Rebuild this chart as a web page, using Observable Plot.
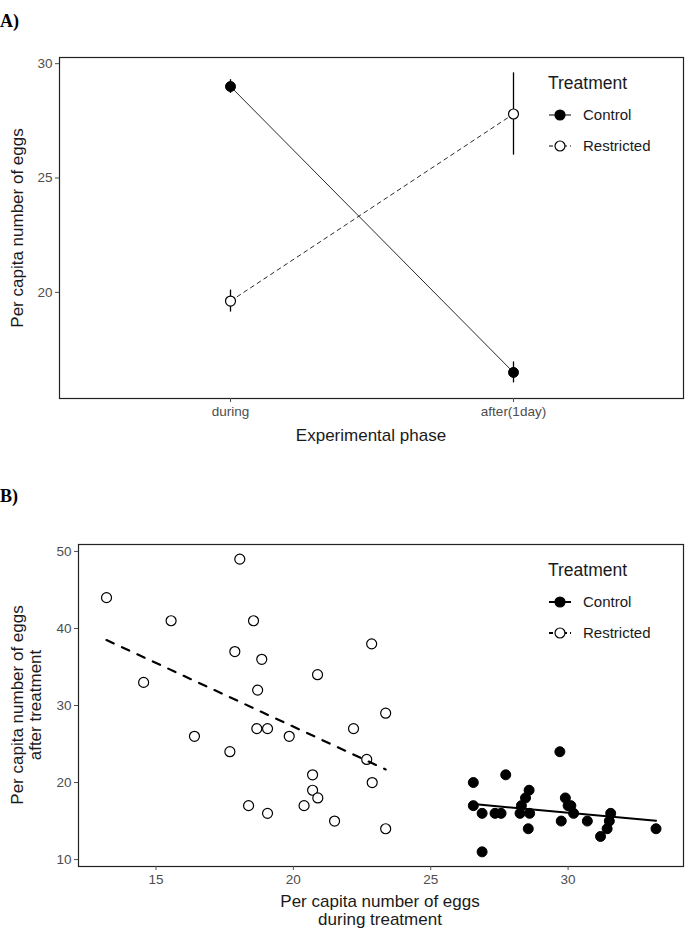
<!DOCTYPE html>
<html><head><meta charset="utf-8">
<script src="https://cdn.jsdelivr.net/npm/d3@7"></script>
<script src="https://cdn.jsdelivr.net/npm/@observablehq/plot@0.6"></script>
<style>
body{margin:0;background:#fff;}
#page{position:relative;width:685px;height:934px;font-family:"Liberation Sans",Arial,sans-serif;overflow:hidden;}
.abs{position:absolute;}
.panel{position:absolute;font-family:"Liberation Serif","Times New Roman",serif;font-weight:bold;font-size:18px;line-height:18px;}
.title{position:absolute;font-size:17px;line-height:18px;color:#1a1a1a;white-space:nowrap;}
.rot{transform-origin:center center;transform:translate(-50%,-50%) rotate(-90deg);text-align:center;}
.hcenter{transform:translate(-50%,-50%);text-align:center;}
</style></head><body><div id="page"></div>
<script>
// ---------- Panel A data ----------
const phases = ["during", "after(1day)"];
const treatments = ["Control", "Restricted"];
const controlMean = [29.0, 16.5];
const controlSE = [0.3, 0.46];
const restrictedMean = [19.62, 27.8];
const restrictedSE = [0.48, 1.8];
const yTicksA = [20, 25, 30];

// ---------- Panel B data ----------
const controlDuring = [26.55, 27.73, 29.7, 26.55, 26.87, 27.34, 27.56, 26.87, 28.58, 28.45, 28.3, 28.25, 28.6, 28.55, 29.75, 29.9, 30.0, 30.2, 30.7, 31.55, 31.5, 31.42, 31.18, 33.2, 30.1];
const controlAfter  = [20, 21, 24, 17, 16, 16, 16, 11, 19, 18, 17, 16, 16, 14, 15, 18, 17, 16, 15, 16, 15, 14, 13, 14, 17];
const restrictedDuring = [13.2, 18.05, 15.55, 18.55, 22.85, 17.87, 18.85, 14.55, 20.88, 18.7, 23.36, 16.4, 18.67, 19.06, 19.85, 22.19, 17.69, 22.67, 20.7, 22.87, 20.7, 20.89, 18.37, 20.39, 19.06, 21.5, 23.36];
const restrictedAfter  = [44, 49, 41, 41, 38, 37, 36, 33, 34, 32, 29, 26, 27, 27, 26, 27, 24, 23, 21, 20, 19, 18, 17, 17, 16, 15, 14];
// fitted linear trend lines (ends of each line)
const controlFitDuring = [26.55, 33.2];
const controlFitAfter  = [17.2, 15.05];
const restrictedFitDuring = [13.2, 23.36];
const restrictedFitAfter  = [38.5, 21.7];
const xTicksB = [15, 20, 25, 30];
const yTicksB = [10, 20, 30, 40, 50];

const page = document.getElementById("page");
const FONT = "Liberation Sans, Arial, sans-serif";

// table for A
const tableA = [];
phases.forEach((p, i) => {
  tableA.push({phase: p, treatment: "Control", mean: controlMean[i], se: controlSE[i]});
  tableA.push({phase: p, treatment: "Restricted", mean: restrictedMean[i], se: restrictedSE[i]});
});
const ctrlA = tableA.filter(d => d.treatment === "Control");
const restA = tableA.filter(d => d.treatment === "Restricted");

const plotA = Plot.plot({
  width: 685, height: 460,
  marginLeft: 59, marginRight: 2, marginTop: 57, marginBottom: 62,
  style: {fontFamily: FONT, fontSize: "13px", background: "transparent", overflow: "visible"},
  x: {type: "point", domain: phases, padding: 0.6, label: null},
  y: {domain: [15.36, 30.27], label: null},
  marks: [
    Plot.frame({stroke: "#222", strokeWidth: 1.2}),
    Plot.axisY({ticks: yTicksA, tickSize: 4, tickPadding: 3, color: "#4d4d4d", fontSize: 13.5, label: null}),
    Plot.axisX({tickSize: 4, tickPadding: 4, color: "#4d4d4d", fontSize: 13.5, label: null}),
    Plot.line(ctrlA, {x: "phase", y: "mean", stroke: "#111", strokeWidth: 0.9}),
    Plot.line(restA, {x: "phase", y: "mean", stroke: "#111", strokeWidth: 0.9, strokeDasharray: "4,4"}),
    Plot.ruleX(tableA, {x: "phase", y1: d => d.mean - d.se, y2: d => d.mean + d.se, stroke: "#000", strokeWidth: 1.3}),
    Plot.dot(ctrlA, {x: "phase", y: "mean", r: 5, fill: "#000", stroke: "#000", strokeWidth: 1}),
    Plot.dot(restA, {x: "phase", y: "mean", r: 5, fill: "#fff", stroke: "#000", strokeWidth: 1.2})
  ]
});
const wrapA = document.createElement("div");
wrapA.className = "abs"; wrapA.style.left = "0px"; wrapA.style.top = "0px";
wrapA.appendChild(plotA);
page.appendChild(wrapA);

// table for B
const ctrlB = controlDuring.map((x, i) => ({during: x, after: controlAfter[i], treatment: "Control"}));
const restB = restrictedDuring.map((x, i) => ({during: x, after: restrictedAfter[i], treatment: "Restricted"}));
const ctrlFit = controlFitDuring.map((x, i) => ({during: x, after: controlFitAfter[i]}));
const restFit = restrictedFitDuring.map((x, i) => ({during: x, after: restrictedFitAfter[i]}));

const plotB = Plot.plot({
  width: 685, height: 464,
  marginLeft: 78, marginRight: 2, marginTop: 74, marginBottom: 68,
  style: {fontFamily: FONT, fontSize: "13px", background: "transparent", overflow: "visible"},
  x: {domain: [12.18, 34.2], label: null},
  y: {domain: [9.1, 50.9], label: null},
  marks: [
    Plot.frame({stroke: "#222", strokeWidth: 1.2}),
    Plot.axisY({ticks: yTicksB, tickSize: 4, tickPadding: 3, color: "#4d4d4d", fontSize: 13.5, label: null}),
    Plot.axisX({ticks: xTicksB, tickSize: 4, tickPadding: 4, color: "#4d4d4d", fontSize: 13.5, label: null}),
    Plot.dot(ctrlB, {x: "during", y: "after", r: 5, fill: "#000", stroke: "#000", strokeWidth: 1}),
    Plot.dot(restB, {x: "during", y: "after", r: 5, fill: "#fff", stroke: "#000", strokeWidth: 1.2}),
    Plot.line(ctrlFit, {x: "during", y: "after", stroke: "#000", strokeWidth: 2}),
    Plot.line(restFit, {x: "during", y: "after", stroke: "#000", strokeWidth: 2.2, strokeDasharray: "8,9"})
  ]
});
const wrapB = document.createElement("div");
wrapB.className = "abs"; wrapB.style.left = "0px"; wrapB.style.top = "470px";
wrapB.appendChild(plotB);
page.appendChild(wrapB);

// ---------- text overlays ----------
function addDiv(cls, html, left, top) {
  const d = document.createElement("div");
  d.className = cls; d.innerHTML = html;
  d.style.left = left + "px"; d.style.top = top + "px";
  page.appendChild(d);
  return d;
}
addDiv("panel", "A)", 0, 12);
addDiv("panel", "B)", 0, 487);
addDiv("title rot", "Per capita number of eggs", 18, 228);
addDiv("title hcenter", "Experimental phase", 371, 436);
addDiv("title rot", "Per capita number of eggs<br>after treatment", 27, 705);
addDiv("title hcenter", "Per capita number of eggs<br>during treatment", 380, 911);

// ---------- legends ----------
function legend(top, lineW, dashA, dashB) {
  const ns = "http://www.w3.org/2000/svg";
  const svg = document.createElementNS(ns, "svg");
  svg.setAttribute("width", 140); svg.setAttribute("height", 90);
  svg.style.position = "absolute"; svg.style.left = "545px"; svg.style.top = top + "px";
  svg.style.fontFamily = FONT;
  const t = document.createElementNS(ns, "text");
  t.setAttribute("x", 3); t.setAttribute("y", 20); t.setAttribute("font-size", 17.5); t.setAttribute("fill", "#1a1a1a");
  t.textContent = "Treatment"; svg.appendChild(t);
  treatments.forEach((name, i) => {
    const cy = 46 + i * 31;
    const l = document.createElementNS(ns, "line");
    l.setAttribute("x1", 4); l.setAttribute("x2", 26); l.setAttribute("y1", cy); l.setAttribute("y2", cy);
    l.setAttribute("stroke", "#000"); l.setAttribute("stroke-width", lineW);
    const da = i === 0 ? dashA : dashB;
    if (da) l.setAttribute("stroke-dasharray", da);
    svg.appendChild(l);
    const c = document.createElementNS(ns, "circle");
    c.setAttribute("cx", 15); c.setAttribute("cy", cy); c.setAttribute("r", 5);
    c.setAttribute("fill", i === 0 ? "#000" : "#fff"); c.setAttribute("stroke", "#000"); c.setAttribute("stroke-width", 1.2);
    svg.appendChild(c);
    const tx = document.createElementNS(ns, "text");
    tx.setAttribute("x", 38); tx.setAttribute("y", cy + 5); tx.setAttribute("font-size", 15); tx.setAttribute("fill", "#1a1a1a");
    tx.textContent = name; svg.appendChild(tx);
  });
  page.appendChild(svg);
}
legend(69, 1, null, "4,3");
legend(556, 2, null, "4,3");
</script>
</body></html>
